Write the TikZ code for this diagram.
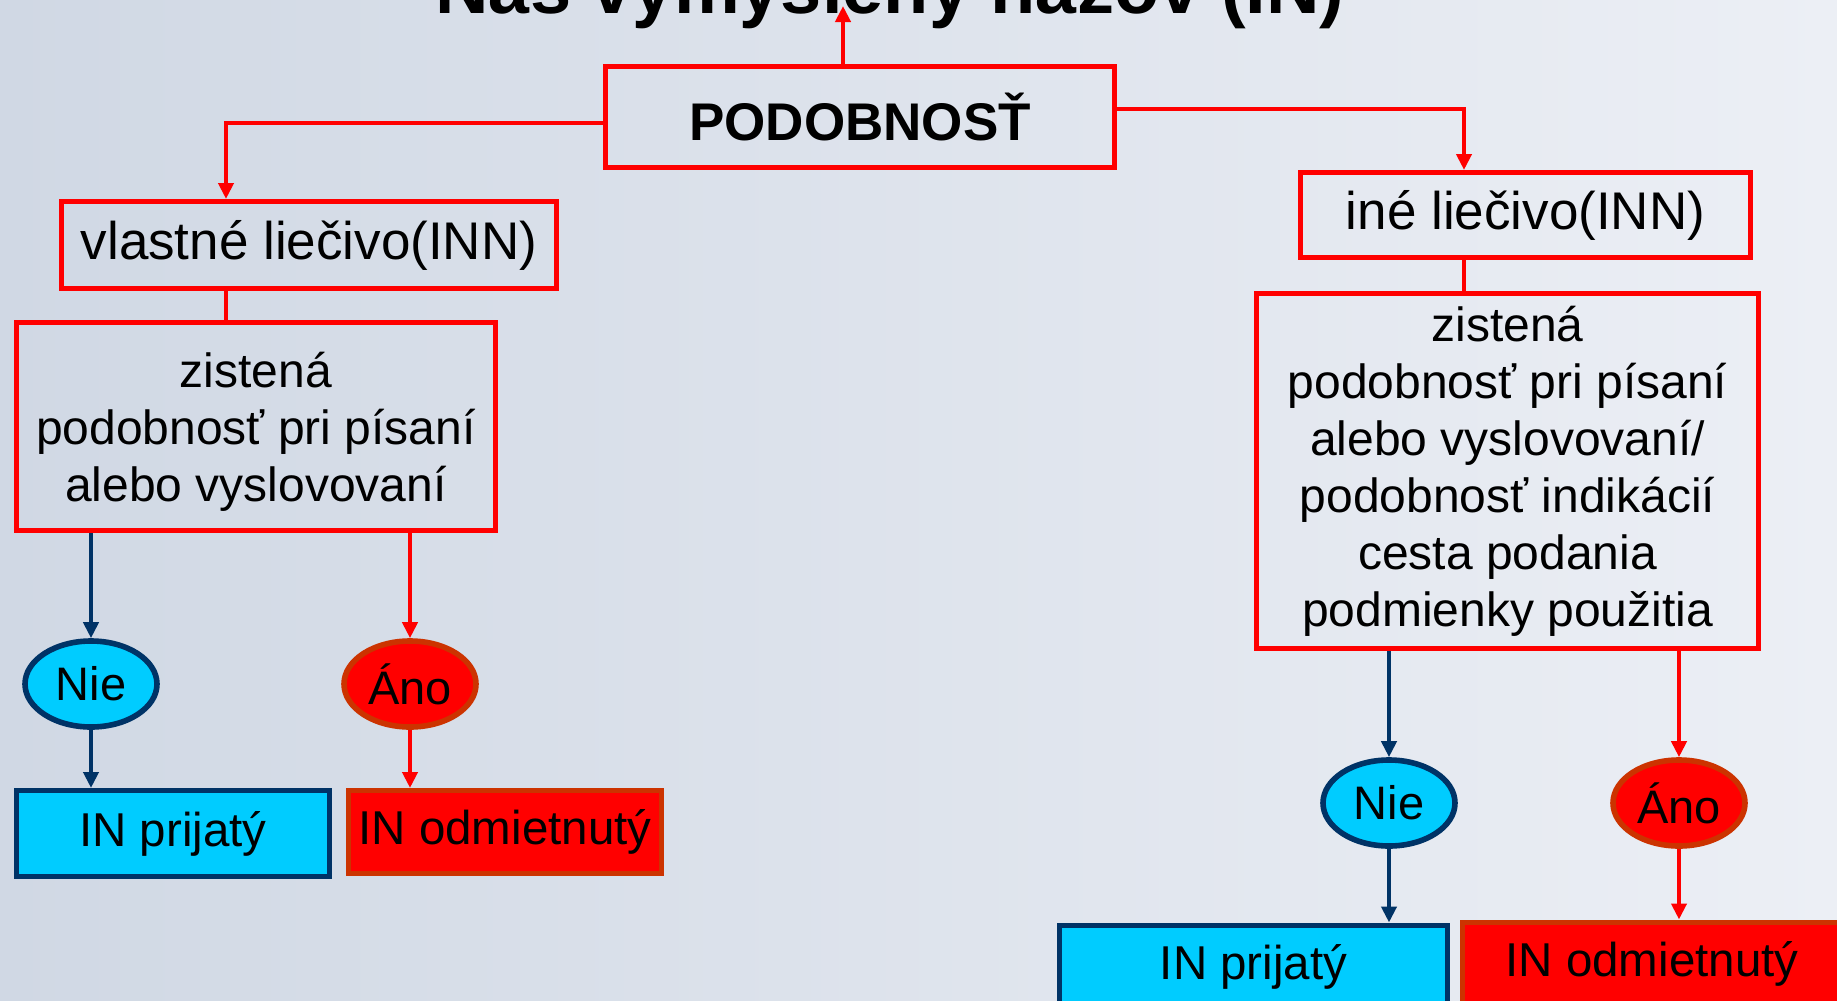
\documentclass[tikz,border=0pt]{standalone}
\usepackage{fontspec}
\setmainfont{Liberation Sans}
\usetikzlibrary{arrows.meta,shapes.geometric,calc}
\definecolor{bred}{RGB}{255,0,0}
\definecolor{navy}{RGB}{0,51,102}
\definecolor{cyanf}{RGB}{0,204,255}
\definecolor{rust}{RGB}{204,51,0}
\definecolor{bgA}{RGB}{208,216,228}
\definecolor{bgB}{RGB}{236,239,245}
\tikzset{
  redbox/.style={draw=bred, line width=2.5pt, rectangle, inner sep=0pt, align=center, text=black},
  bluebox/.style={draw=navy, fill=cyanf, line width=2.5pt, rectangle, inner sep=0pt, align=center, font=\fontsize{23.75}{28}\selectfont},
  redfill/.style={draw=rust, fill=bred, line width=2.5pt, rectangle, inner sep=0pt, align=center, font=\fontsize{23.75}{28}\selectfont},
  nieell/.style={ellipse, draw=navy, fill=cyanf, line width=2.8pt, inner sep=0pt, minimum width=66pt, minimum height=43pt, font=\fontsize{23.5}{28}\selectfont},
  anoell/.style={ellipse, draw=rust, fill=bred, line width=2.8pt, inner sep=0pt, minimum width=66pt, minimum height=43pt, font=\fontsize{23.5}{28}\selectfont},
  rarr/.style={draw=bred, line width=2pt, -{Triangle[length=8pt,width=7.5pt]}},
  narr/.style={draw=navy, line width=2pt, -{Triangle[length=8pt,width=7.5pt]}},
  rline/.style={draw=bred, line width=2.4pt},
  bigtxt/.style={font=\fontsize{26.5}{32}\selectfont},
  midtxt/.style={font=\fontsize{24}{28.5}\selectfont}
}
\begin{document}
\begin{tikzpicture}[x=0.5pt,y=-0.5pt]
\useasboundingbox (0,0) rectangle (1837,1001);
\begin{scope}
\clip (0,0) rectangle (1837,1001);
\shade[left color=bgA, right color=bgB] (0,0) rectangle (1837,1001);

\node[font=\bfseries\fontsize{37}{44}\selectfont, anchor=base] (title) at (890,13) {Náš vymyslený názov (IN)};

\node[redbox, font=\bfseries\fontsize{26.5}{32}\selectfont, minimum width=254.5pt, minimum height=50.5pt] (pod) at (860,117) {PODOBNOSŤ};
\node[redbox, bigtxt, minimum width=247.5pt, minimum height=43.5pt] (vl) at (309,245) {vlastné liečivo(INN)};
\node[redbox, midtxt, minimum width=239.5pt, minimum height=104pt, text depth=-2pt] (zl) at (256,426.5) {zistená\\podobnosť pri písaní\\alebo vyslovovaní};
\node[redbox, bigtxt, minimum width=225pt, minimum height=42.5pt] (ine) at (1525.5,215) {iné liečivo(INN)};
\node[redbox, midtxt, minimum width=251pt, minimum height=177.5pt] (zr) at (1507.5,471) {zistená\\podobnosť pri písaní\\alebo vyslovovaní/\\podobnosť indikácií\\cesta podania\\podmienky použitia};

\node[nieell] (nieL) at (91,684) {Nie};
\node[anoell] (anoL) at (410,684) {Áno};
\node[nieell] (nieR) at (1389,803) {Nie};
\node[anoell] (anoR) at (1679,803) {Áno};

\node[bluebox, minimum width=156.5pt, minimum height=43pt] (prijL) at (173,833.5) {IN prijatý};
\node[redfill, minimum width=156.5pt, minimum height=41.5pt] (odmL) at (505,832) {IN odmietnutý};
\node[bluebox, minimum width=194pt, minimum height=42pt] (prijR) at (1253.5,967) {IN prijatý};
\node[redfill, minimum width=190pt, minimum height=42pt] (odmR) at (1652,964) {IN odmietnutý};

\coordinate (ttip) at (843,6);
\draw[rarr] (pod.north -| ttip) -- (ttip);
\draw[rarr] ([yshift=-3pt]pod.west) -| ([xshift=-41.5pt]vl.north);
\draw[rarr] ([yshift=4pt]pod.east) -| ([xshift=-30.75pt]ine.north);
\draw[rline] ([xshift=-41.5pt]vl.south) -- ([xshift=-41.5pt]vl.south |- zl.north);
\draw[rline] ([xshift=-30.75pt]ine.south) -- ([xshift=-30.75pt]ine.south |- zr.north);

\draw[narr] (zl.south -| nieL) -- (nieL.north);
\draw[rarr] (zl.south -| anoL) -- (anoL.north);
\draw[narr] (nieL.south) -- (nieL.south |- prijL.north);
\draw[rarr] (anoL.south) -- (anoL.south |- odmL.north);

\draw[narr] (zr.south -| nieR) -- (nieR.north);
\draw[rarr] (zr.south -| anoR) -- (anoR.north);
\draw[narr] (nieR.south) -- (nieR.south |- prijR.north);
\draw[rarr] (anoR.south) -- (anoR.south |- odmR.north);
\end{scope}
\end{tikzpicture}
\end{document}
